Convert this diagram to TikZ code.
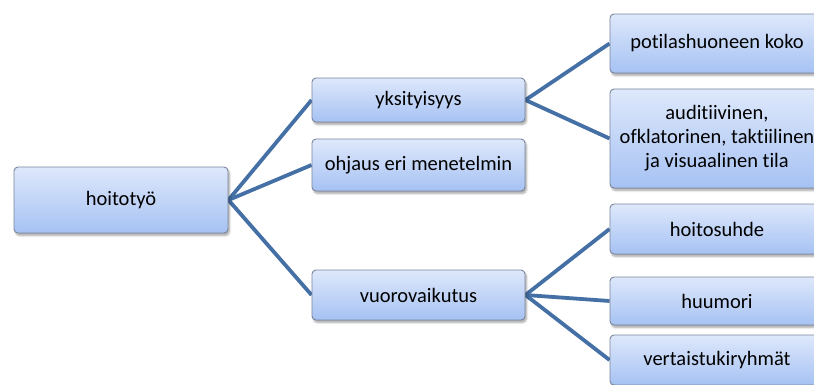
\documentclass[tikz,border=0pt]{standalone}
\usepackage{fontspec}
\setmainfont[Ligatures={NoCommon}]{Carlito}
\usetikzlibrary{shadows.blur,backgrounds}
\definecolor{boxtop}{RGB}{222,232,251}
\definecolor{boxbot}{RGB}{166,194,243}
\definecolor{boxline}{RGB}{122,134,156}
\definecolor{linkblue}{RGB}{68,112,166}
\tikzset{
  box/.style={draw=boxline, line width=0.9pt, rounded corners=4pt,
    top color=boxtop, bottom color=boxbot, align=center, inner sep=0pt,
    font=\fontsize{20.5}{24}\selectfont,
    blur shadow={shadow xshift=1.5pt, shadow yshift=-2.5pt, shadow blur steps=6, shadow opacity=35}},
  link/.style={draw=linkblue, line width=3.8pt}
}
\begin{document}
\begin{tikzpicture}[x=1pt, y=-1pt]
\useasboundingbox (0,0) rectangle (814,385);
\clip (0,0) rectangle (814,385);
\node[box, minimum width=214pt, minimum height=66pt] (hoito) at (121,200) {hoitotyö};
\node[box, minimum width=213pt, minimum height=44pt] (yks) at (418.5,100) {yksityisyys};
\node[box, minimum width=213pt, minimum height=52pt] (ohj) at (418.5,165) {ohjaus eri menetelmin};
\node[box, minimum width=213pt, minimum height=50pt] (vuo) at (418.5,295) {vuorovaikutus};
\node[box, minimum width=214pt, minimum height=59pt] (pot) at (717,43.5) {potilashuoneen koko};
\node[box, minimum width=214pt, minimum height=99pt] (aud) at (717,138.5) {auditiivinen,\\ofklatorinen, taktiilinen\\ja visuaalinen tila};
\node[box, minimum width=214pt, minimum height=50pt] (hoi) at (717,229) {hoitosuhde};
\node[box, minimum width=214pt, minimum height=48pt] (huu) at (717,301) {huumori};
\node[box, minimum width=214pt, minimum height=50pt] (ver) at (717,360) {vertaistukiryhmät};
% connectors behind the boxes
\begin{scope}[on background layer]
\draw[link] (hoito.east) -- (yks.west);
\draw[link] (hoito.east) -- (ohj.west);
\draw[link] (hoito.east) -- (vuo.west);
\draw[link] (yks.east) -- (pot.west);
\draw[link] (yks.east) -- (aud.west);
\draw[link] (vuo.east) -- (hoi.west);
\draw[link] (vuo.east) -- (huu.west);
\draw[link] (vuo.east) -- (ver.west);
\end{scope}
\end{tikzpicture}
\end{document}
